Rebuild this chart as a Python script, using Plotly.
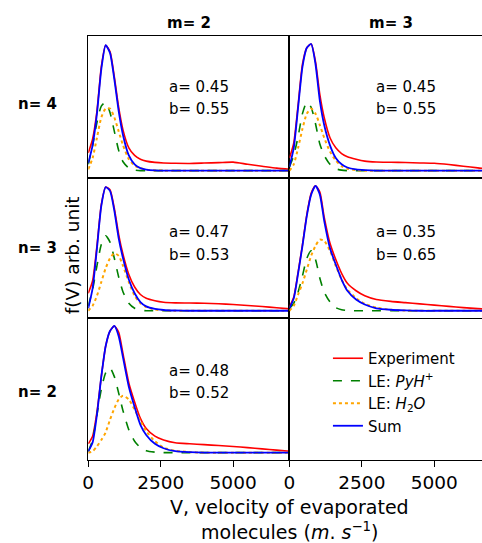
import plotly.graph_objects as go

W, H = 482, 543

# velocity grid (m/s)
V = [0, 150, 300, 450, 600, 750, 900, 1050, 1200, 1400, 1600, 1800, 2000, 2300, 2600, 3000, 3500, 4000, 4500, 5000, 5500, 6000, 6500, 7000]

# n=4, m=2
exp_42 = [0.14, 0.25, 0.47, 0.82, 0.99, 0.94, 0.74, 0.50, 0.32, 0.18, 0.12, 0.09, 0.075, 0.065, 0.06, 0.058, 0.057, 0.06, 0.063, 0.067, 0.05, 0.035, 0.02, 0.01]
pyh_42 = [0.05, 0.20, 0.38, 0.51, 0.54, 0.46, 0.31, 0.16, 0.07, 0.02, 0.005, 0, 0, 0, 0, 0, 0, 0, 0, 0, 0, 0, 0, 0]
h2o_42 = [0.01, 0.10, 0.26, 0.42, 0.49, 0.49, 0.42, 0.31, 0.20, 0.09, 0.04, 0.02, 0.008, 0.002, 0, 0, 0, 0, 0, 0, 0, 0, 0, 0]
sum_42 = [0.06, 0.20, 0.45, 0.80, 0.99, 0.93, 0.72, 0.47, 0.28, 0.12, 0.05, 0.02, 0.008, 0.002, 0, 0, 0, 0, 0, 0, 0, 0, 0, 0]

# n=4, m=3
exp_43 = [0.10, 0.22, 0.52, 0.84, 0.97, 1.00, 0.86, 0.60, 0.42, 0.26, 0.18, 0.135, 0.11, 0.09, 0.075, 0.068, 0.066, 0.064, 0.061, 0.058, 0.048, 0.035, 0.022, 0.012]
pyh_43 = [0.03, 0.12, 0.27, 0.45, 0.54, 0.50, 0.37, 0.21, 0.12, 0.05, 0.015, 0.004, 0, 0, 0, 0, 0, 0, 0, 0, 0, 0, 0, 0]
h2o_43 = [0.0, 0.05, 0.18, 0.33, 0.45, 0.49, 0.45, 0.36, 0.26, 0.15, 0.08, 0.035, 0.015, 0.005, 0, 0, 0, 0, 0, 0, 0, 0, 0, 0]
sum_43 = [0.03, 0.18, 0.50, 0.82, 0.97, 1.00, 0.84, 0.55, 0.36, 0.20, 0.10, 0.05, 0.025, 0.01, 0.004, 0, 0, 0, 0, 0, 0, 0, 0, 0]

# n=3, m=2
exp_32 = [0.14, 0.24, 0.52, 0.85, 0.99, 0.97, 0.82, 0.61, 0.45, 0.29, 0.19, 0.13, 0.10, 0.08, 0.068, 0.063, 0.062, 0.06, 0.056, 0.05, 0.042, 0.034, 0.024, 0.014]
pyh_32 = [0.04, 0.17, 0.36, 0.53, 0.60, 0.55, 0.42, 0.27, 0.15, 0.06, 0.02, 0.005, 0, 0, 0, 0, 0, 0, 0, 0, 0, 0, 0, 0]
h2o_32 = [0.0, 0.04, 0.12, 0.23, 0.34, 0.42, 0.46, 0.44, 0.36, 0.23, 0.12, 0.06, 0.03, 0.01, 0.004, 0, 0, 0, 0, 0, 0, 0, 0, 0]
sum_32 = [0.02, 0.18, 0.50, 0.84, 0.99, 0.96, 0.80, 0.58, 0.42, 0.25, 0.14, 0.07, 0.035, 0.015, 0.006, 0.002, 0, 0, 0, 0, 0, 0, 0, 0]

# n=3, m=3
exp_33 = [0.03, 0.11, 0.31, 0.53, 0.77, 0.94, 1.00, 0.95, 0.75, 0.54, 0.41, 0.30, 0.22, 0.16, 0.12, 0.09, 0.075, 0.065, 0.055, 0.045, 0.035, 0.025, 0.017, 0.01]
pyh_33 = [0.02, 0.06, 0.15, 0.28, 0.42, 0.48, 0.41, 0.26, 0.15, 0.07, 0.025, 0.008, 0.002, 0, 0, 0, 0, 0, 0, 0, 0, 0, 0, 0]
h2o_33 = [0.0, 0.04, 0.13, 0.22, 0.33, 0.44, 0.52, 0.57, 0.56, 0.48, 0.36, 0.25, 0.17, 0.10, 0.055, 0.025, 0.008, 0.002, 0, 0, 0, 0, 0, 0]
sum_33 = [0.02, 0.10, 0.30, 0.52, 0.76, 0.93, 1.00, 0.93, 0.72, 0.50, 0.37, 0.25, 0.16, 0.09, 0.05, 0.02, 0.008, 0.003, 0, 0, 0, 0, 0, 0]

# n=2, m=2
exp_22 = [0.07, 0.13, 0.32, 0.60, 0.84, 0.96, 1.00, 0.95, 0.78, 0.55, 0.40, 0.27, 0.19, 0.13, 0.10, 0.078, 0.07, 0.063, 0.056, 0.048, 0.04, 0.03, 0.02, 0.01]
pyh_22 = [0.01, 0.10, 0.30, 0.50, 0.63, 0.67, 0.60, 0.47, 0.33, 0.18, 0.09, 0.04, 0.015, 0.004, 0, 0, 0, 0, 0, 0, 0, 0, 0, 0]
h2o_22 = [0.0, 0.01, 0.05, 0.10, 0.16, 0.26, 0.35, 0.42, 0.45, 0.42, 0.34, 0.25, 0.17, 0.09, 0.04, 0.015, 0.005, 0, 0, 0, 0, 0, 0, 0]
sum_22 = [0.01, 0.08, 0.30, 0.60, 0.84, 0.96, 1.00, 0.92, 0.75, 0.52, 0.36, 0.22, 0.14, 0.07, 0.035, 0.012, 0.004, 0, 0, 0, 0, 0, 0, 0]

panel_labels_a = ["a= 0.45", "a= 0.45", "a= 0.47", "a= 0.35", "a= 0.48"]
panel_labels_b = ["b= 0.55", "b= 0.55", "b= 0.53", "b= 0.65", "b= 0.52"]
col_titles = ["m= 2", "m= 3"]
row_titles = ["n= 4", "n= 3", "n= 2"]
x_ticks = [0, 2500, 5000]

panels = [
    (exp_42, pyh_42, h2o_42, sum_42),
    (exp_43, pyh_43, h2o_43, sum_43),
    (exp_32, pyh_32, h2o_32, sum_32),
    (exp_33, pyh_33, h2o_33, sum_33),
    (exp_22, pyh_22, h2o_22, sum_22),
]

FONT = "DejaVu Sans"
px_x = lambda p: p / W
px_y = lambda p: 1 - p / H

col_dom = [[px_x(83.3), px_x(287)], [px_x(287), 1.0]]
row_dom = [[px_y(178), px_y(36)], [px_y(318), px_y(178)], [px_y(460), px_y(318)]]
x_range = [[0, 6943], [0, 6646]]
y_range = [-0.058, 1.063]

fig = go.Figure()

names = ["Experiment", "LE: <i>PyH</i><sup>+</sup>", "LE: <i>H</i><sub>2</sub><i>O</i>", "Sum"]
styles = [
    dict(color="#ff0000", width=1.6),
    dict(color="#008000", width=1.6, dash="dash"),
    dict(color="#ffa500", width=2, dash="dot"),
    dict(color="#0000ff", width=1.8),
]

for i, data in enumerate(panels):
    ax = "" if i == 0 else str(i + 1)
    for k, (ys, st, nm) in enumerate(zip(data, styles, names)):
        fig.add_trace(go.Scatter(
            x=V, y=ys, mode="lines", name=nm, line=dict(shape="spline", smoothing=0.6, **st),
            xaxis="x" + ax, yaxis="y" + ax, showlegend=(i == 0), legendrank=k + 1,
        ))

# empty trace so the bottom-right (legend) subplot gets its axes drawn
fig.add_trace(go.Scatter(x=[None], y=[None], mode="lines", xaxis="x6", yaxis="y6",
                         showlegend=False, hoverinfo="skip"))

layout_axes = {}
for i in range(6):
    r, c = divmod(i, 2)
    ax = "" if i == 0 else str(i + 1)
    bottom = (r == 2)
    empty = (i == 5)
    xa = dict(
        domain=col_dom[c], range=x_range[c], anchor="y" + ax,
        showline=True, linecolor="black", linewidth=1.3,
        mirror=not empty, showgrid=False, zeroline=False,
        ticks="outside" if bottom else "", ticklen=6, tickcolor="black", tickwidth=1.2,
        tickvals=x_ticks, showticklabels=bottom, ticklabelstandoff=0,
        tickfont=dict(family=FONT, size=18.5, color="black"),
    )
    ya = dict(
        domain=row_dom[r], range=y_range, anchor="x" + ax,
        showline=True, linecolor="black", linewidth=1.3,
        mirror=(c == 0) and not empty, showgrid=False, zeroline=False,
        showticklabels=False, ticks="",
    )
    layout_axes["xaxis" + ax] = xa
    layout_axes["yaxis" + ax] = ya

annotations = []
text_x = [163, 373]
ab_y = [(87, 109.5), (232, 255), (371, 393)]
for i in range(5):
    r, c = divmod(i, 2)
    annotations.append(dict(xref="paper", yref="paper", x=px_x(text_x[c]), y=px_y(ab_y[r][0]),
                            text=panel_labels_a[i], showarrow=False, xanchor="left", yanchor="middle",
                            font=dict(family=FONT, size=15, color="black")))
    annotations.append(dict(xref="paper", yref="paper", x=px_x(text_x[c]), y=px_y(ab_y[r][1]),
                            text=panel_labels_b[i], showarrow=False, xanchor="left", yanchor="middle",
                            font=dict(family=FONT, size=15, color="black")))

for c, t in enumerate(col_titles):
    annotations.append(dict(xref="paper", yref="paper", x=px_x([185, 390][c]), y=px_y(23),
                            text="<b>" + t + "</b>", showarrow=False, xanchor="center", yanchor="middle",
                            font=dict(family=FONT, size=15, color="black")))
for r, t in enumerate(row_titles):
    annotations.append(dict(xref="paper", yref="paper", x=px_x(32), y=px_y([104, 248, 392][r]),
                            text="<b>" + t + "</b>", showarrow=False, xanchor="center", yanchor="middle",
                            font=dict(family=FONT, size=15, color="black")))

annotations.append(dict(xref="paper", yref="paper", x=px_x(67), y=px_y(255),
                        text="f(V) arb. unit", showarrow=False, textangle=-90,
                        xanchor="center", yanchor="middle",
                        font=dict(family=FONT, size=18.5, color="black")))
annotations.append(dict(xref="paper", yref="paper", x=px_x(287), y=px_y(507),
                        text="V, velocity of evaporated", showarrow=False,
                        xanchor="center", yanchor="middle",
                        font=dict(family=FONT, size=19, color="black")))
annotations.append(dict(xref="paper", yref="paper", x=px_x(287), y=px_y(531),
                        text="molecules (<i>m</i>. <i>s</i><sup>−1</sup>)", showarrow=False,
                        xanchor="center", yanchor="middle",
                        font=dict(family=FONT, size=19, color="black")))

fig.update_layout(
    width=W, height=H,
    margin=dict(l=0, r=0, t=0, b=0),
    paper_bgcolor="white", plot_bgcolor="white",
    showlegend=True,
    legend=dict(x=px_x(326), y=px_y(342), xanchor="left", yanchor="top",
                font=dict(family=FONT, size=15, color="black"),
                bgcolor="rgba(0,0,0,0)", itemwidth=30, tracegroupgap=0,
                traceorder="normal"),
    annotations=annotations,
    **layout_axes,
)

fig.write_html("out.html", config={"displayModeBar": False},
               post_script="document.body.style.margin='0';document.body.style.overflow='hidden';")
